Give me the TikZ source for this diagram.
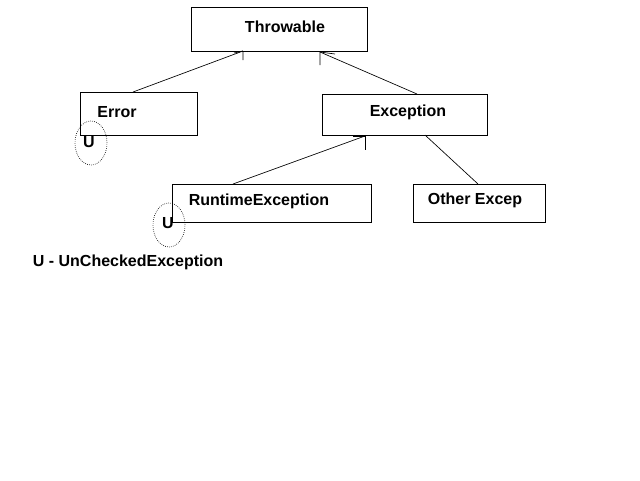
\documentclass[tikz,border=0pt]{standalone}
\usepackage{fontspec}
\setmainfont{Liberation Sans}
\usetikzlibrary{shapes.geometric}
\begin{document}
\begin{tikzpicture}[x=0.75pt,y=-0.75pt,
  lbl/.style={font=\fontsize{12pt}{14pt}\selectfont\bfseries,inner sep=0pt},
  conn/.style={line width=0.5pt},
  umark/.style={draw,ellipse,densely dotted,line width=0.5pt,minimum width=24pt,minimum height=33pt,inner sep=0pt}]
\useasboundingbox[fill=white] (0,0) rectangle (640,480);
% boxes
\draw[line width=0.6pt] (191,7) rectangle (367,51);
\coordinate (thrB1) at (243,51);
\coordinate (thrB2) at (320,52);
\node[lbl] (thr) at (285,27) {Throwable};
\draw[line width=0.6pt] (80,92) rectangle (197,135);
\coordinate (errT) at (133,92);
\node[lbl] (err) at (117,112) {Error};
\draw[line width=0.6pt] (322,94) rectangle (487,135);
\coordinate (excT) at (417,94);
\coordinate (excB1) at (365,136);
\coordinate (excB2) at (425,135);
\node[lbl] (exc) at (408,112) {Exception};
\draw[line width=0.6pt] (172,184) rectangle (371,222);
\coordinate (rtT) at (233,184);
\node[lbl] (rt) at (259,201) {RuntimeException};
\draw[line width=0.6pt] (413,184) rectangle (545,222);
\coordinate (othT) at (478,184);
\node[lbl] (oth) at (475,200) {Other Excep};
% U marks
\node[umark] (u1) at (91,143) {};
\node[lbl] (u1t) at (89,142) {U};
\node[umark] (u2) at (169,225) {};
\node[lbl] (u2t) at (168,223) {U};
\node[lbl] (legend) at (128,262) {U - UnCheckedException};
% connectors
\draw[conn] (errT) -- (thrB1);
\draw[conn] (thrB1) -- ++(0,9) (thrB1) -- ++(-9,2);
\draw[conn] (excT) -- (thrB2);
\draw[conn] (thrB2) -- ++(0,13) (thrB2) -- ++(15,2);
\draw[conn] (rtT) -- (excB1);
\draw[conn] (excB1) -- ++(0,14) (excB1) -- ++(-12,0);
\draw[conn] (excB2) -- (othT);
\end{tikzpicture}
\end{document}
